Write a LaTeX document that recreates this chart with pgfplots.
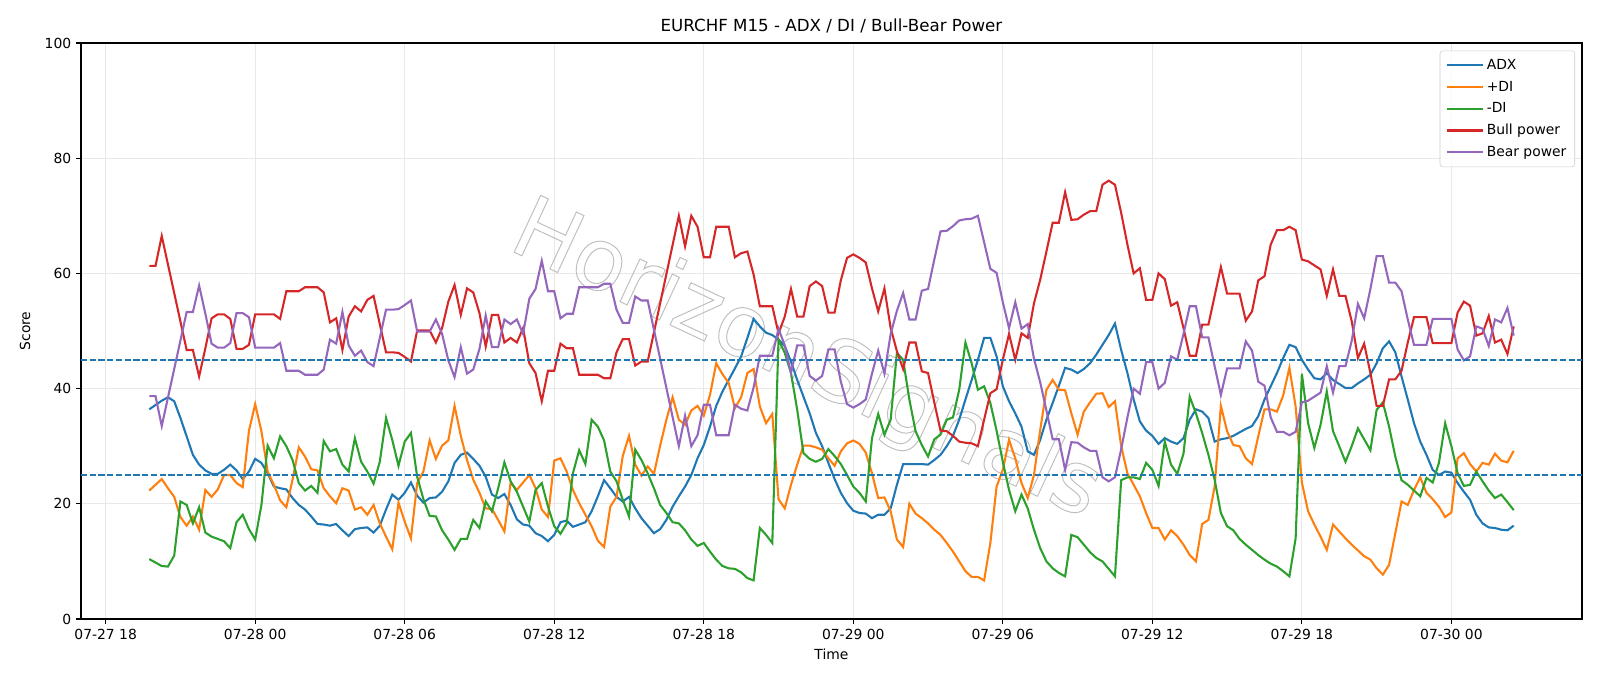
\documentclass[border=0pt]{standalone}
\usepackage{fontspec}
\setmainfont{DejaVu Sans}
\usepackage{pgfplots}
\pgfplotsset{compat=1.18}
\definecolor{c0}{HTML}{1F77B4}
\definecolor{c1}{HTML}{FF7F0E}
\definecolor{c2}{HTML}{2CA02C}
\definecolor{c3}{HTML}{D62728}
\definecolor{c4}{HTML}{9467BD}
\begin{document}
\begin{tikzpicture}
\useasboundingbox (-58.32pt,-48.24pt) rectangle (1093.68pt,445.68pt);
\begin{axis}[
  at={(0,0)}, anchor=south west,
  scale only axis, width=1080.7pt, height=414.7pt,
  xmin=-0.99, xmax=59.24, ymin=0, ymax=100,
  xtick={0,6,...,54},
  xticklabels={07-27 18,07-28 00,07-28 06,07-28 12,07-28 18,07-29 00,07-29 06,07-29 12,07-29 18,07-30 00},
  ytick={0,20,...,100},
  tick pos=left, tick align=outside, major tick length=3.5pt,
  grid=major, grid style={color=black!9, line width=0.8pt},
  axis line style={line width=0.8pt},
  every tick/.style={black, line width=0.8pt},
  tick label style={font=\fontsize{10}{12}\selectfont},
  /pgf/number format/assume math mode=true,
  xlabel={Time}, ylabel={Score},
  label style={font=\fontsize{10}{12}\selectfont},
  ylabel style={yshift=3.5pt},
  title={EURCHF M15 - ADX / DI / Bull-Bear Power},
  title style={font=\fontsize{12}{14}\selectfont, at={(0.5,1)}, anchor=south, yshift=-2.4pt},
  legend style={at={(1,1)}, anchor=north east, xshift=-5pt, yshift=-5.5pt,
    draw=black!20, rounded corners=2pt, fill=white, fill opacity=0.8, text opacity=1,
    font=\fontsize{10}{12}\selectfont, row sep=2.8pt, inner xsep=4pt, inner ysep=4pt,
    /tikz/every even column/.append style={column sep=7.5pt}},
  legend cell align=left,
  legend image code/.code={\draw[#1, line width=1.5pt] (0cm,0cm) -- (0.92cm,0cm);},
]
\node[rotate=-25, text=black!25, font=\fontsize{62}{62}\selectfont] at (axis cs:28.1,44.6) {\special{pdf:literal direct 1 Tr 0.7 w}HorizonSignals\special{pdf:literal direct 0 Tr}};

\addplot[c0, line width=1.5pt] coordinates {
(1.75,36.4)(2.25,37.9)(2.5,38.5)(2.75,37.8)(3.0,34.9)(3.25,31.7)(3.5,28.5)(3.75,26.8)(4.0,25.8)(4.25,25.2)(4.5,25.2)(4.75,25.9)(5.0,26.8)(5.25,25.8)(5.5,24.3)(5.75,25.6)(6.0,27.8)(6.25,27.1)(6.5,25.3)(6.75,23.0)(7.0,22.7)(7.25,22.5)(7.5,21.0)(7.75,19.8)(8.0,19.0)(8.25,17.8)(8.5,16.5)(8.75,16.4)(9.0,16.2)(9.25,16.5)(9.5,15.4)(9.75,14.4)(10.0,15.6)(10.25,15.8)(10.5,15.9)(10.75,15.0)(11.0,16.2)(11.25,19.0)(11.5,21.6)(11.75,20.7)(12.0,21.9)(12.25,23.7)(12.5,21.4)(12.75,20.2)(13.0,21.0)(13.25,21.1)(13.5,22.1)(13.75,23.9)(14.0,27.1)(14.25,28.5)(14.5,28.9)(14.75,27.8)(15.0,26.6)(15.25,24.7)(15.5,21.6)(15.75,21.0)(16.0,21.7)(16.25,19.8)(16.5,17.3)(16.75,16.4)(17.0,16.2)(17.25,14.9)(17.5,14.4)(17.75,13.5)(18.0,14.6)(18.25,16.8)(18.5,17.1)(18.75,16.0)(19.0,16.4)(19.25,16.8)(19.5,18.7)(19.75,21.3)(20.0,24.1)(20.25,22.7)(20.5,21.2)(20.75,20.4)(21.0,21.2)(21.25,19.2)(21.5,17.5)(21.75,16.2)(22.0,14.9)(22.25,15.6)(22.5,17.2)(22.75,19.5)(23.0,21.3)(23.25,23.0)(23.5,25.0)(23.75,27.9)(24.0,30.2)(24.25,33.4)(24.5,37.0)(24.75,39.5)(25.0,41.5)(25.25,43.5)(25.5,45.6)(25.75,48.8)(26.0,52.1)(26.25,50.8)(26.5,49.7)(26.75,49.3)(27.0,48.5)(27.25,47.4)(27.5,44.7)(27.75,41.5)(28.0,38.6)(28.25,35.7)(28.5,32.3)(28.75,30.0)(29.0,27.1)(29.25,24.3)(29.5,21.9)(29.75,20.1)(30.0,18.8)(30.25,18.4)(30.5,18.3)(30.75,17.5)(31.0,18.1)(31.25,18.1)(31.5,19.2)(31.75,23.3)(32.0,26.9)(32.25,26.9)(32.5,26.9)(32.75,26.9)(33.0,26.8)(33.25,27.6)(33.5,28.5)(33.75,30.0)(34.0,31.8)(34.25,34.6)(34.5,38.1)(34.75,41.5)(35.0,45.0)(35.25,48.8)(35.5,48.8)(35.75,45.6)(36.0,40.4)(36.25,37.8)(36.5,35.7)(36.75,33.4)(37.0,29.1)(37.25,28.5)(37.5,31.1)(37.75,34.6)(38.0,37.5)(38.25,40.5)(38.5,43.6)(38.75,43.3)(39.0,42.7)(39.25,43.4)(39.5,44.4)(39.75,45.9)(40.0,47.6)(40.25,49.3)(40.5,51.3)(40.75,46.7)(41.0,42.7)(41.25,38.1)(41.5,34.3)(41.75,32.7)(42.0,31.8)(42.25,30.4)(42.5,31.4)(42.75,30.8)(43.0,30.4)(43.25,31.4)(43.5,34.6)(43.75,36.4)(44.0,36.0)(44.25,34.9)(44.5,30.8)(44.75,31.2)(45.0,31.4)(45.25,31.8)(45.5,32.4)(45.75,33.0)(46.0,33.5)(46.25,35.2)(46.5,38.1)(46.75,40.4)(47.0,42.7)(47.25,45.3)(47.5,47.6)(47.75,47.2)(48.0,45.0)(48.25,43.3)(48.5,41.8)(48.75,41.6)(49.0,42.7)(49.25,41.5)(49.5,40.8)(49.75,40.1)(50.0,40.1)(50.25,40.9)(50.5,41.6)(50.75,42.4)(51.0,44.4)(51.25,47.0)(51.5,48.2)(51.75,46.3)(52.0,42.1)(52.25,38.1)(52.5,34.0)(52.75,30.8)(53.0,28.5)(53.25,25.9)(53.5,25.0)(53.75,25.6)(54.0,25.4)(54.25,23.6)(54.5,22.1)(54.75,20.7)(55.0,18.1)(55.25,16.6)(55.5,15.9)(55.75,15.8)(56.0,15.5)(56.25,15.4)(56.5,16.2)
};
\addlegendentry{ADX}

\addplot[c1, line width=1.5pt] coordinates {
(1.75,22.3)(2.25,24.3)(2.5,22.7)(2.75,21.2)(3.0,17.7)(3.25,16.2)(3.5,17.8)(3.75,15.5)(4.0,22.4)(4.25,21.2)(4.5,22.5)(4.75,25.0)(5.0,25.0)(5.25,23.6)(5.5,22.9)(5.75,32.7)(6.0,37.3)(6.25,32.6)(6.5,25.6)(6.75,23.3)(7.0,20.6)(7.25,19.4)(7.5,24.2)(7.75,29.8)(8.0,28.2)(8.25,26.0)(8.5,25.8)(8.75,22.7)(9.0,21.3)(9.25,20.1)(9.5,22.7)(9.75,22.3)(10.0,19.0)(10.25,19.4)(10.5,18.1)(10.75,19.8)(11.0,16.6)(11.25,14.3)(11.5,12.1)(11.75,20.2)(12.0,16.9)(12.25,14.0)(12.5,23.6)(12.75,25.6)(13.0,31.0)(13.25,27.8)(13.5,30.1)(13.75,31.0)(14.0,37.0)(14.25,31.8)(14.5,27.6)(14.75,24.2)(15.0,21.9)(15.25,19.2)(15.5,19.1)(15.75,17.2)(16.0,15.2)(16.25,23.7)(16.5,22.4)(16.75,23.7)(17.0,25.0)(17.25,22.7)(17.5,19.0)(17.75,17.7)(18.0,27.5)(18.25,27.9)(18.5,25.6)(18.75,22.4)(19.0,20.1)(19.25,18.1)(19.5,16.1)(19.75,13.6)(20.0,12.5)(20.25,19.5)(20.5,21.2)(20.75,28.3)(21.0,31.8)(21.25,26.8)(21.5,24.9)(21.75,26.5)(22.0,25.2)(22.25,30.1)(22.5,34.6)(22.75,38.5)(23.0,34.6)(23.25,33.7)(23.5,36.2)(23.75,37.0)(24.0,35.3)(24.25,38.9)(24.5,44.4)(24.75,42.5)(25.0,41.0)(25.25,36.6)(25.5,38.5)(25.75,42.7)(26.0,43.4)(26.25,36.9)(26.5,34.0)(26.75,35.6)(27.0,20.8)(27.25,19.2)(27.5,23.3)(27.75,26.8)(28.0,30.1)(28.25,30.1)(28.5,29.8)(28.75,29.4)(29.0,27.9)(29.25,26.6)(29.5,29.1)(29.75,30.5)(30.0,31.0)(30.25,30.4)(30.5,28.9)(30.75,25.3)(31.0,21.0)(31.25,21.1)(31.5,18.7)(31.75,13.8)(32.0,12.5)(32.25,20.0)(32.5,18.3)(32.75,17.5)(33.0,16.6)(33.25,15.5)(33.5,14.6)(33.75,13.2)(34.0,11.7)(34.25,10.0)(34.5,8.3)(34.75,7.3)(35.0,7.3)(35.25,6.7)(35.5,13.2)(35.75,23.0)(36.0,25.9)(36.25,31.1)(36.5,27.9)(36.75,23.6)(37.0,21.0)(37.25,25.0)(37.5,32.8)(37.75,39.8)(38.0,41.5)(38.25,39.8)(38.5,39.7)(38.75,35.7)(39.0,32.0)(39.25,36.0)(39.5,37.6)(39.75,39.1)(40.0,39.2)(40.25,36.8)(40.5,37.8)(40.75,30.0)(41.0,25.3)(41.25,23.3)(41.5,21.3)(41.75,18.4)(42.0,15.8)(42.25,15.8)(42.5,13.8)(42.75,15.4)(43.0,14.4)(43.25,12.9)(43.5,11.1)(43.75,10.0)(44.0,16.5)(44.25,17.2)(44.5,23.0)(44.75,37.0)(45.0,32.6)(45.25,30.2)(45.5,30.0)(45.75,27.9)(46.0,26.9)(46.25,31.7)(46.5,36.4)(46.75,36.4)(47.0,36.0)(47.25,38.8)(47.5,43.6)(47.75,36.9)(48.0,23.7)(48.25,18.7)(48.5,16.4)(48.75,14.3)(49.0,12.0)(49.25,16.4)(49.5,15.2)(49.75,14.0)(50.0,12.9)(50.25,11.9)(50.5,10.9)(50.75,10.3)(51.0,8.8)(51.25,7.7)(51.5,9.4)(51.75,14.9)(52.0,20.4)(52.25,19.8)(52.5,22.4)(52.75,24.6)(53.0,21.9)(53.25,20.8)(53.5,19.5)(53.75,17.7)(54.0,18.5)(54.25,27.9)(54.5,28.8)(54.75,26.9)(55.0,25.6)(55.25,27.1)(55.5,26.8)(55.75,28.7)(56.0,27.5)(56.25,27.2)(56.5,29.2)
};
\addlegendentry{+DI}

\addplot[c2, line width=1.5pt] coordinates {
(1.75,10.4)(2.25,9.2)(2.5,9.1)(2.75,11.0)(3.0,20.4)(3.25,19.8)(3.5,16.6)(3.75,19.4)(4.0,15.0)(4.25,14.3)(4.5,13.9)(4.75,13.5)(5.0,12.3)(5.25,16.8)(5.5,18.1)(5.75,15.6)(6.0,13.8)(6.25,19.8)(6.5,30.1)(6.75,27.9)(7.0,31.7)(7.25,30.0)(7.5,27.6)(7.75,23.6)(8.0,22.3)(8.25,23.1)(8.5,21.9)(8.75,30.9)(9.0,29.1)(9.25,29.5)(9.5,26.8)(9.75,25.6)(10.0,31.4)(10.25,27.3)(10.5,25.6)(10.75,23.5)(11.0,27.3)(11.25,34.9)(11.5,31.1)(11.75,26.6)(12.0,30.8)(12.25,32.3)(12.5,24.7)(12.75,20.8)(13.0,17.9)(13.25,17.8)(13.5,15.4)(13.75,13.8)(14.0,12.0)(14.25,13.9)(14.5,13.9)(14.75,17.2)(15.0,15.8)(15.25,20.4)(15.5,18.7)(15.75,22.7)(16.0,27.2)(16.25,23.9)(16.5,22.1)(16.75,19.5)(17.0,16.9)(17.25,22.4)(17.5,23.6)(17.75,19.5)(18.0,16.1)(18.25,14.8)(18.5,16.6)(18.75,25.3)(19.0,29.3)(19.25,26.9)(19.5,34.6)(19.75,33.4)(20.0,31.0)(20.25,25.6)(20.5,23.9)(20.75,20.7)(21.0,17.8)(21.25,29.4)(21.5,27.6)(21.75,25.3)(22.0,22.7)(22.25,19.8)(22.5,18.4)(22.75,16.8)(23.0,16.6)(23.25,15.4)(23.5,13.8)(23.75,12.7)(24.0,13.2)(24.25,11.7)(24.5,10.3)(24.75,9.2)(25.0,8.8)(25.25,8.7)(25.5,8.1)(25.75,7.1)(26.0,6.7)(26.25,15.8)(26.5,14.6)(26.75,13.2)(27.0,48.5)(27.25,46.2)(27.5,42.7)(27.75,36.3)(28.0,28.8)(28.25,27.8)(28.5,27.3)(28.75,27.8)(29.0,29.5)(29.25,28.3)(29.5,26.9)(29.75,25.0)(30.0,23.0)(30.25,21.9)(30.5,20.4)(30.75,31.4)(31.0,35.6)(31.25,32.0)(31.5,34.6)(31.75,46.2)(32.0,45.0)(32.25,38.1)(32.5,32.6)(32.75,30.2)(33.0,28.2)(33.25,31.2)(33.5,32.0)(33.75,34.6)(34.0,35.0)(34.25,39.8)(34.5,48.0)(34.75,44.4)(35.0,39.8)(35.25,40.4)(35.5,37.5)(35.75,32.7)(36.0,27.3)(36.25,22.4)(36.5,18.7)(36.75,21.6)(37.0,19.2)(37.25,15.5)(37.5,12.3)(37.75,10.0)(38.0,8.8)(38.25,8.0)(38.5,7.4)(38.75,14.6)(39.0,14.2)(39.25,12.9)(39.5,11.6)(39.75,10.6)(40.0,10.0)(40.25,8.7)(40.5,7.4)(40.75,24.1)(41.0,24.6)(41.25,24.6)(41.5,24.3)(41.75,27.1)(42.0,25.9)(42.25,23.1)(42.5,30.8)(42.75,26.8)(43.0,25.2)(43.25,28.7)(43.5,38.6)(43.75,35.7)(44.0,32.3)(44.25,28.5)(44.5,24.2)(44.75,18.4)(45.0,16.1)(45.25,15.4)(45.5,13.9)(45.75,12.9)(46.0,12.0)(46.25,11.1)(46.5,10.3)(46.75,9.6)(47.0,9.1)(47.25,8.3)(47.5,7.4)(47.75,14.0)(48.0,42.6)(48.25,34.0)(48.5,29.7)(48.75,33.7)(49.0,39.5)(49.25,32.6)(49.5,30.0)(49.75,27.3)(50.0,30.0)(50.25,33.1)(50.5,31.2)(50.75,29.3)(51.0,36.3)(51.25,37.6)(51.5,33.4)(51.75,28.2)(52.0,24.1)(52.25,23.3)(52.5,22.3)(52.75,21.3)(53.0,24.5)(53.25,23.7)(53.5,27.1)(53.75,34.0)(54.0,30.0)(54.25,25.3)(54.5,23.1)(54.75,23.3)(55.0,25.6)(55.25,23.9)(55.5,22.3)(55.75,21.0)(56.0,21.6)(56.25,20.3)(56.5,18.9)
};
\addlegendentry{-DI}

\addplot[c3, line width=1.5pt] coordinates {
(1.75,61.3)(2.0,61.3)(2.25,66.5)(3.25,46.7)(3.5,46.7)(3.75,42.1)(4.0,47.0)(4.25,52.2)(4.5,52.9)(4.75,52.9)(5.0,52.1)(5.25,46.9)(5.5,46.9)(5.75,47.6)(6.0,52.9)(6.75,52.9)(7.0,52.1)(7.25,56.9)(7.75,56.9)(8.0,57.6)(8.5,57.6)(8.75,56.7)(9.0,51.5)(9.25,52.2)(9.5,46.7)(9.75,52.5)(10.0,54.3)(10.25,53.4)(10.5,55.4)(10.75,56.1)(11.0,51.2)(11.25,46.3)(11.5,46.3)(11.75,46.2)(12.0,45.5)(12.25,44.7)(12.5,50.1)(13.0,50.1)(13.25,48.0)(13.5,50.5)(13.75,55.1)(14.0,58.0)(14.25,52.8)(14.5,57.4)(14.75,56.7)(15.0,53.1)(15.25,47.3)(15.5,52.8)(15.75,52.8)(16.0,48.0)(16.25,48.8)(16.5,48.0)(16.75,50.5)(17.0,44.4)(17.25,42.7)(17.5,37.8)(17.75,43.1)(18.0,43.1)(18.25,47.8)(18.5,47.0)(18.75,47.0)(19.0,42.4)(19.75,42.4)(20.0,41.8)(20.25,41.8)(20.5,46.3)(20.75,48.6)(21.0,48.6)(21.25,44.0)(21.5,44.7)(21.75,44.7)(23.0,70.0)(23.25,64.7)(23.5,70.0)(23.75,68.1)(24.0,62.8)(24.25,62.8)(24.5,68.1)(25.0,68.1)(25.25,62.8)(25.5,63.5)(25.75,63.8)(26.0,59.8)(26.25,54.3)(26.75,54.3)(27.0,49.6)(27.25,52.5)(27.5,57.3)(27.75,52.5)(28.0,52.5)(28.25,57.8)(28.5,58.6)(28.75,57.8)(29.0,53.2)(29.25,53.2)(29.5,58.8)(29.75,62.7)(30.0,63.3)(30.25,62.7)(30.5,61.9)(30.75,57.4)(31.0,53.4)(31.25,57.4)(31.5,50.5)(31.75,46.5)(32.0,43.4)(32.25,48.0)(32.5,48.0)(32.75,43.0)(33.0,42.7)(33.25,37.6)(33.5,32.7)(33.75,32.6)(34.0,31.8)(34.25,30.8)(34.5,30.6)(34.75,30.5)(35.0,30.0)(35.5,39.2)(35.75,39.9)(36.0,45.0)(36.25,49.5)(36.5,45.0)(36.75,49.6)(37.0,48.8)(37.25,54.8)(37.5,58.9)(37.75,63.8)(38.0,68.8)(38.25,68.8)(38.5,74.1)(38.75,69.3)(39.0,69.4)(39.25,70.2)(39.5,70.8)(39.75,70.8)(40.0,75.4)(40.25,76.1)(40.5,75.4)(40.75,70.5)(41.0,65.0)(41.25,60.0)(41.5,60.9)(41.75,55.4)(42.0,55.4)(42.25,60.0)(42.5,59.0)(42.75,54.4)(43.0,55.0)(43.25,50.5)(43.5,45.7)(43.75,45.7)(44.0,51.1)(44.25,51.1)(44.5,56.1)(44.75,61.1)(45.0,56.5)(45.5,56.5)(45.75,51.8)(46.0,53.4)(46.25,58.8)(46.5,59.5)(46.75,65.0)(47.0,67.5)(47.25,67.5)(47.5,68.1)(47.75,67.5)(48.0,62.4)(48.25,62.1)(48.75,60.7)(49.0,56.1)(49.25,60.7)(49.5,56.1)(49.75,56.1)(50.0,51.7)(50.25,45.3)(50.5,47.8)(50.75,42.7)(51.0,37.0)(51.25,37.0)(51.5,41.6)(51.75,41.6)(52.0,43.1)(52.25,48.0)(52.5,52.4)(53.0,52.4)(53.25,47.9)(54.0,47.9)(54.25,53.2)(54.5,55.1)(54.75,54.4)(55.0,49.2)(55.25,49.6)(55.5,52.6)(55.75,48.0)(56.0,48.5)(56.25,46.0)(56.5,50.8)
};
\addlegendentry{Bull power}

\addplot[c4, line width=1.5pt] coordinates {
(1.75,38.7)(2.0,38.7)(2.25,33.5)(3.25,53.3)(3.5,53.3)(3.75,57.9)(4.0,53.0)(4.25,47.8)(4.5,47.1)(4.75,47.1)(5.0,47.9)(5.25,53.1)(5.5,53.1)(5.75,52.4)(6.0,47.1)(6.75,47.1)(7.0,47.9)(7.25,43.1)(7.75,43.1)(8.0,42.4)(8.5,42.4)(8.75,43.3)(9.0,48.5)(9.25,47.8)(9.5,53.3)(9.75,47.5)(10.0,45.7)(10.25,46.6)(10.5,44.6)(10.75,43.9)(11.0,48.8)(11.25,53.7)(11.5,53.7)(11.75,53.8)(12.0,54.5)(12.25,55.3)(12.5,49.9)(13.0,49.9)(13.25,52.0)(13.5,49.5)(13.75,44.9)(14.0,42.0)(14.25,47.2)(14.5,42.6)(14.75,43.3)(15.0,46.9)(15.25,52.7)(15.5,47.2)(15.75,47.2)(16.0,52.0)(16.25,51.2)(16.5,52.0)(16.75,49.5)(17.0,55.6)(17.25,57.3)(17.5,62.2)(17.75,56.9)(18.0,56.9)(18.25,52.2)(18.5,53.0)(18.75,53.0)(19.0,57.6)(19.75,57.6)(20.0,58.2)(20.25,58.2)(20.5,53.7)(20.75,51.4)(21.0,51.4)(21.25,56.0)(21.5,55.3)(21.75,55.3)(23.0,30.0)(23.25,35.3)(23.5,30.0)(23.75,31.9)(24.0,37.2)(24.25,37.2)(24.5,31.9)(25.0,31.9)(25.25,37.2)(25.5,36.5)(25.75,36.2)(26.0,40.2)(26.25,45.7)(26.75,45.7)(27.0,50.4)(27.25,47.5)(27.5,42.7)(27.75,47.5)(28.0,47.5)(28.25,42.2)(28.5,41.4)(28.75,42.2)(29.0,46.8)(29.25,46.8)(29.5,41.2)(29.75,37.3)(30.0,36.7)(30.25,37.3)(30.5,38.1)(30.75,42.6)(31.0,46.6)(31.25,42.6)(31.5,49.5)(31.75,53.5)(32.0,56.6)(32.25,52.0)(32.5,52.0)(32.75,57.0)(33.0,57.3)(33.25,62.4)(33.5,67.3)(33.75,67.4)(34.0,68.2)(34.25,69.2)(34.5,69.4)(34.75,69.5)(35.0,70.0)(35.5,60.8)(35.75,60.1)(36.0,55.0)(36.25,50.5)(36.5,55.0)(36.75,50.4)(37.0,51.2)(37.25,45.2)(37.5,41.1)(37.75,36.2)(38.0,31.2)(38.25,31.2)(38.5,25.9)(38.75,30.7)(39.0,30.6)(39.25,29.8)(39.5,29.2)(39.75,29.2)(40.0,24.6)(40.25,23.9)(40.5,24.6)(40.75,29.5)(41.0,35.0)(41.25,40.0)(41.5,39.1)(41.75,44.6)(42.0,44.6)(42.25,40.0)(42.5,41.0)(42.75,45.6)(43.0,45.0)(43.25,49.5)(43.5,54.3)(43.75,54.3)(44.0,48.9)(44.25,48.9)(44.5,43.9)(44.75,38.9)(45.0,43.5)(45.5,43.5)(45.75,48.2)(46.0,46.6)(46.25,41.2)(46.5,40.5)(46.75,35.0)(47.0,32.5)(47.25,32.5)(47.5,31.9)(47.75,32.5)(48.0,37.6)(48.25,37.9)(48.75,39.3)(49.0,43.9)(49.25,39.3)(49.5,43.9)(49.75,43.9)(50.0,48.3)(50.25,54.7)(50.5,52.2)(50.75,57.3)(51.0,63.0)(51.25,63.0)(51.5,58.4)(51.75,58.4)(52.0,56.9)(52.25,52.0)(52.5,47.6)(53.0,47.6)(53.25,52.1)(54.0,52.1)(54.25,46.8)(54.5,44.9)(54.75,45.6)(55.0,50.8)(55.25,50.4)(55.5,47.4)(55.75,52.0)(56.0,51.5)(56.25,54.0)(56.5,49.2)
};
\addlegendentry{Bear power}

\addplot[c0, line width=1.2pt, dash pattern=on 4.4pt off 1.9pt, forget plot] coordinates {(-0.99,25) (59.24,25)};
\addplot[c0, line width=1.2pt, dash pattern=on 4.4pt off 1.9pt, forget plot] coordinates {(-0.99,45) (59.24,45)};
\end{axis}
\end{tikzpicture}
\end{document}
